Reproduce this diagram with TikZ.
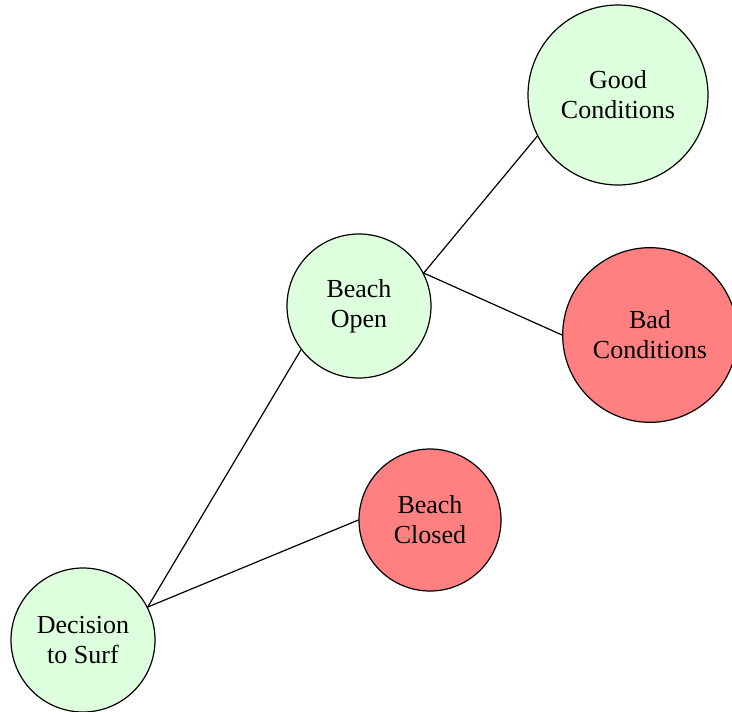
\documentclass[tikz,border=0pt]{standalone}
\usepackage{fontspec}
\setmainfont{Liberation Serif}
\usepackage{xcolor}
\usepackage{tikz}
\usetikzlibrary{positioning}
\definecolor{goodgreen}{HTML}{DDFFDD}
\definecolor{badred}{HTML}{FF8080}
\tikzset{link/.style = {-, line width=0.9pt}}

\begin{document}
\begin{tikzpicture}[x=0.75pt,y=-0.75pt,line width=0.9pt,
    main node/.style={circle,draw,inner sep=0pt,align=center,font=\fontsize{19.5}{22.5}\selectfont},
    ok node/.style={main node,fill=goodgreen},
    no node/.style={main node,fill=badred}]
            \useasboundingbox (0,0) rectangle (732,711);

            \node[ok node,minimum size=108pt] (decision) at (83,640) {Decision\\to Surf};
            \node[ok node,minimum size=108pt] (open) at (359,306) {Beach\\Open};
            \node[no node,minimum size=106.5pt] (closed) at (430,520) {Beach\\Closed};
            \node[ok node,minimum size=135pt] (good) at (618,95) {Good\\Conditions};
            \node[no node,minimum size=131pt] (bad) at (650,335) {Bad\\Conditions};

            \path[link]
                (decision.27) edge (open.217)
                (decision.27) edge (closed.180)
                (open.27) edge (good.207)
                (open.27) edge (bad.180)
                ;
        \end{tikzpicture}
\end{document}
